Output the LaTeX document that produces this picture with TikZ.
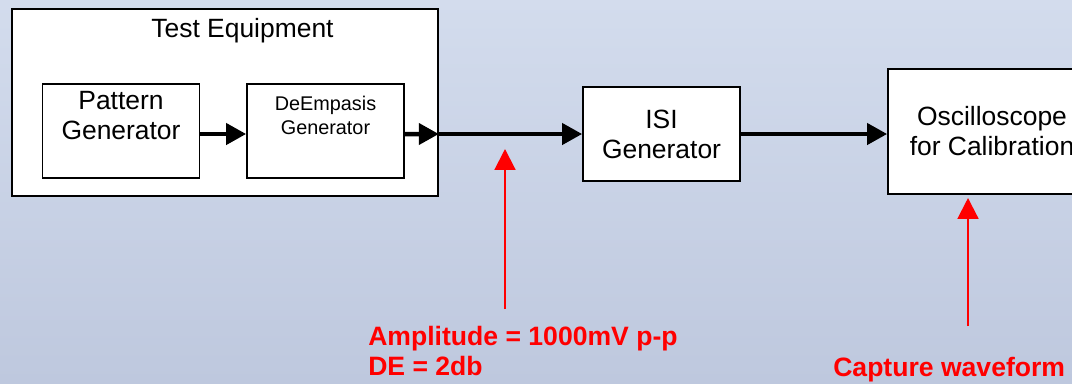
\documentclass[tikz,border=0pt]{standalone}
\usepackage{fontspec}
\setmainfont{Liberation Sans}
\usepackage{tikz}
\usetikzlibrary{shapes,arrows.meta,positioning}
\definecolor{bgtop}{RGB}{211,220,237}
\definecolor{bgbottom}{RGB}{190,200,222}
\definecolor{notered}{RGB}{255,0,0}
\tikzstyle{outerbox} = [rectangle, draw, line width=1.2pt, fill=white, inner sep=0pt]
\tikzstyle{block} = [outerbox, minimum width=3.925cm, minimum height=2.35cm]
\tikzstyle{txt} = [align=center, inner sep=0pt, font=\fontsize{18.8}{21.3}\selectfont]
\tikzstyle{smalltxt} = [align=center, inner sep=0pt, font=\fontsize{14.1}{17}\selectfont]
\tikzstyle{redtxt} = [text=notered, align=left, inner sep=0pt, font=\bfseries\fontsize{18.9}{21.5}\selectfont]
\tikzstyle{line2} = [draw, line width=3.2pt, -{Triangle[length=0.5cm,width=0.52cm]}]
\tikzstyle{line3} = [draw, notered, line width=1.5pt, -{Triangle[length=0.52cm,width=0.52cm]}]

\begin{document}
\begin{tikzpicture}
			% Background
			\useasboundingbox (0,0) rectangle (26.8,-9.575);
			\clip (0,0) rectangle (26.8,-9.575);
			\fill [top color=bgtop, bottom color=bgbottom] (0,0) rectangle (26.8,-9.575);

			% Place nodes
			\node [outerbox, minimum width=10.65cm, minimum height=4.675cm] (testeq) at (5.625, -2.5625) {};
			\node [txt, anchor=base] (testeqtxt) at (6.0625, -0.925) {Test Equipment};
			\node [block] (pattern) at (3.025, -3.275) {};
			\node [txt] (patterntxt) at (3.025, -2.9) {Pattern\\Generator};
			\node [block] (deemph) at (8.1375, -3.275) {};
			\node [smalltxt] (deemphtxt) at (8.1375, -2.875) {DeEmpasis\\Generator};
			\node [block, txt, draw, line width=1.2pt, fill=white] (isi) at (16.5375, -3.35) {ISI\\Generator};
			\node [outerbox, txt, minimum width=5.2cm, minimum height=3.125cm] (scope) at (24.8, -3.2875) {Oscilloscope\\for Calibration};
			\node [redtxt, anchor=north west] (amplitude) at (9.2, -8.15) {Amplitude = 1000mV p-p\\DE = 2db};
			\node [redtxt, anchor=base west] (capture) at (20.825, -9.4) {Capture waveform};
			\coordinate (amptip) at (12.625, -3.725);
			\coordinate (ampfoot) at (12.625, -7.725);
			\coordinate (captip) at (24.2, -4.95);
			\coordinate (capfoot) at (24.2, -8.15);

			% Draw edges
			\path [line2] ([yshift=-0.075cm]pattern.east) -- ([yshift=-0.075cm]deemph.west);
			\path [line2] ([yshift=-0.075cm]deemph.east) -- (testeq.east |- isi.west);
			\path [line2] (testeq.east |- isi.west) -- (isi.west);
			\path [line2] (isi.east) -- (scope.west |- isi.east);
			\path [line3] (ampfoot) -- (amptip);
			\path [line3] (capfoot) -- (captip);
		\end{tikzpicture}
\end{document}
